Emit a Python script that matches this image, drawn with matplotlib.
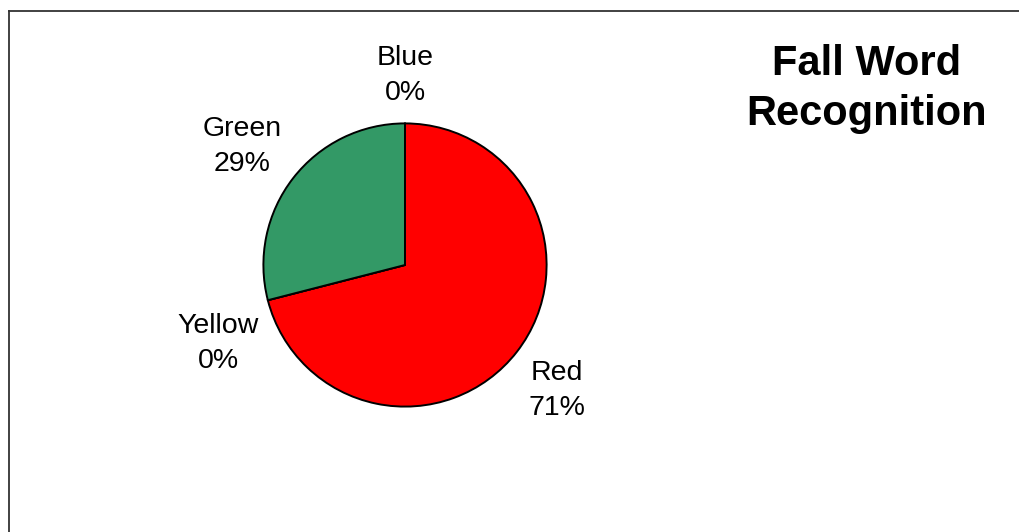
import matplotlib
matplotlib.use("Agg")
import matplotlib.pyplot as plt
from matplotlib.lines import Line2D

plt.rcParams['font.family'] = ['Liberation Sans', 'DejaVu Sans']

# Data
categories = ["Red", "Yellow", "Green", "Blue"]
percent = [71, 0, 29, 0]
colors = ["#FF0000", "#FFFF00", "#339966", "#0000FF"]
title = "Fall Word\nRecognition"

W, H, DPI = 1019, 532, 100
fig = plt.figure(figsize=(W / DPI, H / DPI), dpi=DPI)
fig.patch.set_facecolor("white")

# Outer chart frame (top and left edges visible, the rest runs past the canvas)
fx0, fy0 = 9 / W, 1 - 11 / H
fig.add_artist(Line2D([fx0, fx0], [fy0, -0.1], transform=fig.transFigure,
                      color="#333333", lw=1.3))
fig.add_artist(Line2D([fx0, 1.1], [fy0, fy0], transform=fig.transFigure,
                      color="#333333", lw=1.3))

# Pie axes: centre and radius in pixels
cx, cy, r = 405, 265, 141.6
ax = fig.add_axes([(cx - r) / W, 1 - (cy + r) / H, 2 * r / W, 2 * r / H])
ax.pie(percent, colors=colors, startangle=90, counterclock=False,
       radius=1.0, wedgeprops=dict(edgecolor="black", linewidth=1.4))
ax.set_xlim(-1, 1)
ax.set_ylim(-1, 1)
ax.set_aspect("equal")
ax.axis("off")

# Label placement in units of the pie radius
label_pos = {
    "Red": (1.073, -0.883),
    "Yellow": (-1.321, -0.551),
    "Green": (-1.148, 0.840),
    "Blue": (0.0, 1.335),
}
for name, val in zip(categories, percent):
    x, y = label_pos[name]
    ax.text(x, y, f"{name}\n{val}%", ha="center", va="center",
            fontsize=20.5, linespacing=1.45, clip_on=False)

fig.text(867 / W, 1 - 89 / H, title, ha="center", va="center",
         fontsize=30, fontweight="bold", linespacing=1.33)

fig.savefig("out.png", dpi=DPI, facecolor="white")
